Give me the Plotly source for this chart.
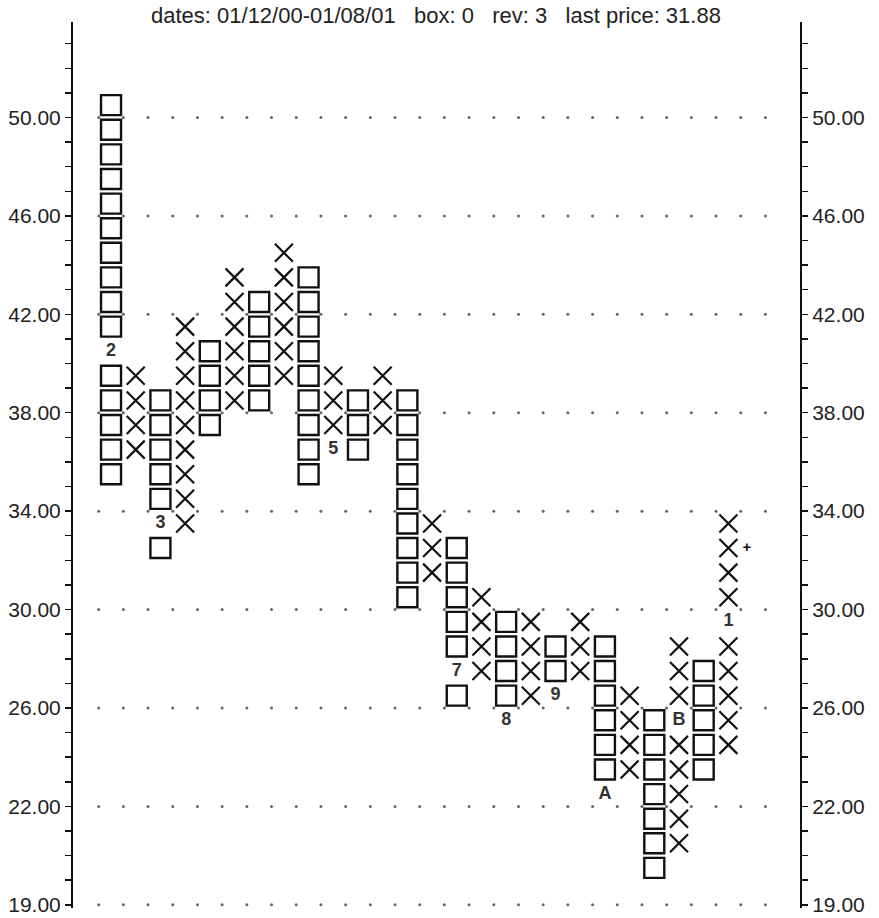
import plotly.graph_objects as go

# Point & figure columns (0-based column order). Levels are box-index values:
# index == price for prices >= 20; below 20 the box is 0.5 pt (index 18 == 19.00).
col_types = ['O', 'X', 'O', 'X', 'O', 'X', 'O', 'X', 'O', 'X', 'O', 'X', 'O',
             'X', 'O', 'X', 'O', 'X', 'O', 'X', 'O', 'X', 'O', 'X', 'O', 'X']
col_low = [35, 36, 32, 33, 37, 38, 38, 39, 35, 36, 36, 37, 30,
           31, 26, 27, 25, 26, 26, 27, 22, 23, 19, 20, 23, 24]
col_high = [51, 40, 39, 42, 41, 44, 43, 45, 44, 40, 39, 40, 39,
            34, 33, 31, 30, 30, 29, 30, 29, 27, 26, 29, 28, 34]

# month markers that replace a box
label_cols = [0, 2, 9, 14, 16, 18, 20, 23, 25]
label_levels = [40, 33, 36, 27, 25, 26, 22, 25, 29]
label_texts = ['2', '3', '5', '7', '8', '9', 'A', 'B', '1']

# last price marker
last_col = 25
last_level = 32
last_text = '+'

# axis ticks
tick_levels = list(range(18, 54))
label_levels_axis = [18, 22, 26, 30, 34, 38, 42, 46, 50]
label_texts_axis = ['19.00', '22.00', '26.00', '30.00', '34.00', '38.00', '42.00', '46.00', '50.00']

title_text = ("dates: 01/12/00-01/08/01\u00a0\u00a0\u00a0box: 0\u00a0\u00a0\u00a0rev: 3"
              "\u00a0\u00a0\u00a0last price: 31.88")

FONT = "Liberation Sans, Arial, sans-serif"
INK = "#111111"

label_set = {(c, l) for c, l in zip(label_cols, label_levels)}

ox, oy, xx, xy = [], [], [], []
for i, (t, lo, hi) in enumerate(zip(col_types, col_low, col_high)):
    for lv in range(lo, hi):
        if (i, lv) in label_set:
            continue
        if t == 'O':
            ox.append(i); oy.append(lv + 0.5)
        else:
            xx.append(i); xy.append(lv + 0.5)

ncols = len(col_types)
dot_x, dot_y = [], []
for lv in label_levels_axis:
    for k in range(ncols + 2):
        dot_x.append(k - 0.5)
        dot_y.append(lv)

ticktext = []
for t in tick_levels:
    ticktext.append(label_texts_axis[label_levels_axis.index(t)] if t in label_levels_axis else "")

fig = go.Figure()
fig.add_trace(go.Scatter(x=dot_x, y=dot_y, mode='markers',
                         marker=dict(symbol='circle', size=3, color='#666666'),
                         hoverinfo='skip', showlegend=False))
fig.add_trace(go.Scatter(x=ox, y=oy, mode='markers',
                         marker=dict(symbol='square-open', size=20,
                                     line=dict(width=2.4, color=INK), color=INK),
                         showlegend=False))
fig.add_trace(go.Scatter(x=xx, y=xy, mode='markers',
                         marker=dict(symbol='x-thin-open', size=18,
                                     line=dict(width=2.2, color=INK), color=INK),
                         showlegend=False))
fig.add_trace(go.Scatter(x=label_cols, y=[l + 0.5 for l in label_levels], mode='text',
                         text=['<b>%s</b>' % s for s in label_texts], textposition='middle center',
                         textfont=dict(family=FONT, size=18, color='#333333'),
                         showlegend=False))
fig.add_trace(go.Scatter(x=[last_col + 0.75], y=[last_level + 0.5], mode='text',
                         text=['<b>%s</b>' % last_text], textposition='middle center',
                         textfont=dict(family=FONT, size=15, color=INK),
                         showlegend=False))
# invisible trace for the right axis
fig.add_trace(go.Scatter(x=[0], y=[30], yaxis='y2', mode='markers',
                         marker=dict(opacity=0), hoverinfo='skip', showlegend=False))

yr = [17.87, 53.88]
axis_common = dict(range=yr, tickmode='array', tickvals=tick_levels, ticktext=ticktext,
                   ticks='outside', ticklen=6, tickwidth=1.5, tickcolor=INK,
                   showline=True, linewidth=2, linecolor=INK, showgrid=False,
                   zeroline=False, automargin=False,
                   tickfont=dict(family=FONT, size=21, color='#222222'))
fig.update_layout(
    width=879, height=918,
    margin=dict(l=73, r=79, t=22, b=10),
    paper_bgcolor='white', plot_bgcolor='white',
    hovermode=False,
    xaxis=dict(range=[-1.54, 27.9], visible=False, automargin=False),
    yaxis=dict(side='left', **axis_common),
    yaxis2=dict(side='right', overlaying='y', **axis_common),
    annotations=[dict(text=title_text, xref='paper', yref='paper', x=0.499, y=1,
                      xanchor='center', yanchor='middle', yshift=7, showarrow=False,
                      font=dict(family=FONT, size=22, color='#222222'))],
)
fig.write_html("out.html", config={'displayModeBar': False, 'staticPlot': True},
               post_script="document.body.style.margin='0';document.body.style.padding='0';")
